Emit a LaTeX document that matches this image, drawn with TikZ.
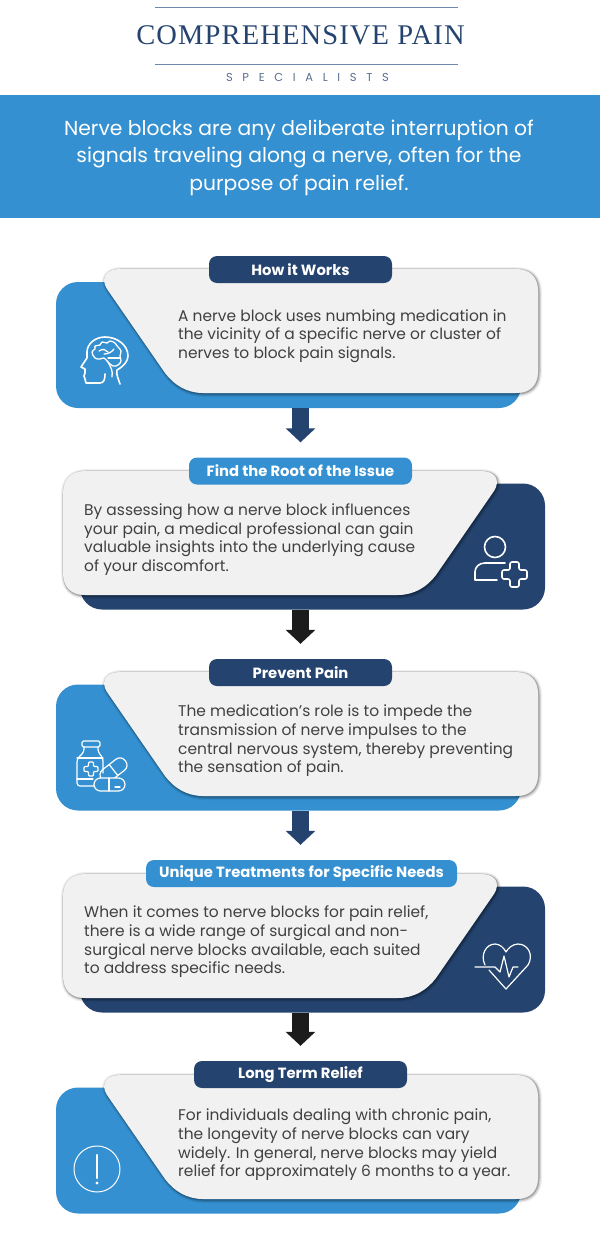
\documentclass[tikz,border=0pt]{standalone}
\usepackage{fontspec}
\setmainfont{Poppins}
\newfontfamily\logofont[LetterSpace=4]{Liberation Serif}
\newfontfamily\subfont[LetterSpace=84]{Poppins}
\usetikzlibrary{arrows.meta}
\definecolor{lightblue}{HTML}{3490D0}
\definecolor{navy}{HTML}{24436F}
\definecolor{cardgrey}{HTML}{F1F1F1}
\definecolor{textgrey}{HTML}{404040}
\definecolor{rulecolor}{HTML}{6F88B0}
\definecolor{arrowblack}{HTML}{1C1C1C}
\begin{document}
\begin{tikzpicture}[x=1pt,y=-1pt]
 % styles
  \tikzstyle{baselight}=[rectangle,fill=lightblue,rounded corners=22pt,minimum width=465pt,minimum height=126pt,inner sep=0pt]
  \tikzstyle{basedark}=[baselight,fill=navy]
  \tikzstyle{cardshape}=[fill=cardgrey,
    preaction={draw=black,opacity=.06,line width=6pt,transform canvas={shift={(1pt,-1pt)}}},
    preaction={draw=black,opacity=.12,line width=3.6pt,transform canvas={shift={(1pt,-1pt)}}},
    preaction={draw=black,opacity=.22,line width=1.6pt,transform canvas={shift={(.7pt,-.7pt)}}}]
  \tikzstyle{titlelight}=[rectangle,fill=lightblue,rounded corners=8pt,minimum height=27pt,inner sep=0pt,text=white,font=\fontsize{14.8}{16}\selectfont\bfseries]
  \tikzstyle{titledark}=[titlelight,fill=navy]
  \tikzstyle{cardtext}=[anchor=west,align=left,inner sep=0pt,text=textgrey,font=\fontsize{15.45}{18.7}\selectfont]
  \tikzstyle{linkblue}=[-{Triangle[length=14pt,width=29pt]},line width=17pt,navy,shorten >=15pt]
  \tikzstyle{linkblack}=[linkblue,arrowblack]
  \tikzstyle{pictline}=[draw=white,line width=1.6pt,line cap=round,line join=round]
  \useasboundingbox (0,0) rectangle (600,1258);
 % the logo
  \draw[rulecolor,line width=.8pt] (155,7)--(458,7);
  \draw[rulecolor,line width=.8pt] (155,64)--(458,64);
  \node[navy,font=\fontsize{28.5}{32}\selectfont\logofont] (logo) at (300.5,35) {COMPREHENSIVE PAIN};
  \node[rulecolor!80!black,font=\fontsize{11.5}{13}\selectfont\subfont] (sublogo) at (307.5,77) {SPECIALISTS};
 % the banner
  \fill[lightblue] (0,95) rectangle (600,218);
  \node[align=center,text=white,font=\fontsize{20.3}{27.4}\selectfont] (intro) at (299,157.5)
    {Nerve blocks are any deliberate interruption of\\signals traveling along a nerve, often for the\\purpose of pain relief.};
 % the bases
  \node[baselight] (base1) at (288.5,345) {};
  \node[basedark] (base2) at (312.5,546.5) {};
  \node[baselight] (base3) at (288.5,747.5) {};
  \node[basedark] (base4) at (312.5,949.5) {};
  \node[baselight] (base5) at (288.5,1150.5) {};
 % the cards
  \foreach \dy in {0,403,806}{
    \begin{scope}[shift={(0,\dy)}]
      \path[cardshape] (120,269)--(516,269) .. controls (530,269) and (538,277) .. (538,291)
        --(538,371) .. controls (538,385) and (530,393) .. (516,393)
        --(203,393) .. controls (187,393) and (174,385) .. (165,373)
        --(107,289) .. controls (100,278) and (106,269) .. (120,269)--cycle;
    \end{scope}}
  \foreach \dy in {202,605}{
    \begin{scope}[shift={(601,\dy)},xscale=-1]
      \path[cardshape] (120,269)--(516,269) .. controls (530,269) and (538,277) .. (538,291)
        --(538,371) .. controls (538,385) and (530,393) .. (516,393)
        --(203,393) .. controls (187,393) and (174,385) .. (165,373)
        --(107,289) .. controls (100,278) and (106,269) .. (120,269)--cycle;
    \end{scope}}
 % the titles
  \node[titledark,minimum width=183pt] (title1) at (300.5,269.5) {\raisebox{.8pt}{How it Works}};
  \node[titlelight,minimum width=223pt] (title2) at (300.5,471) {\raisebox{.8pt}{Find the Root of the Issue}};
  \node[titledark,minimum width=183pt] (title3) at (300.5,672.5) {\raisebox{.8pt}{Prevent Pain}};
  \node[titlelight,minimum width=311pt] (title4) at (301.5,873.5) {\raisebox{.8pt}{Unique Treatments for Specific Needs}};
  \node[titledark,minimum width=213pt] (title5) at (300.5,1074.5) {\raisebox{.8pt}{Long Term Relief}};
 % the texts
  \node[cardtext] (text1) at (178,336) {A nerve block uses numbing medication in\\the vicinity of a specific nerve or cluster of\\nerves to block pain signals.};
  \node[cardtext] (text2) at (84,539.5) {By assessing how a nerve block influences\\your pain, a medical professional can gain\\valuable insights into the underlying cause\\of your discomfort.};
  \node[cardtext] (text3) at (178,741) {The medication’s role is to impede the\\transmission of nerve impulses to the\\central nervous system, thereby preventing\\the sensation of pain.};
  \node[cardtext] (text4) at (84,942) {When it comes to nerve blocks for pain relief,\\there is a wide range of surgical and non-\\surgical nerve blocks available, each suited\\to address specific needs.};
  \node[cardtext] (text5) at (178,1145) {For individuals dealing with chronic pain,\\the longevity of nerve blocks can vary\\widely. In general, nerve blocks may yield\\relief for approximately 6 months to a year.};
 % the arrows
  \draw[linkblue] (title2.north |- base1.south)--(title2.north);
  \draw[linkblack] (title3.north |- base2.south)--(title3.north);
  \draw[linkblue] (title3.north |- base3.south)--(title4.north -| title3.north);
  \draw[linkblack] (title3.north |- base4.south)--(title5.north -| title3.north);
 % icon head
  \draw[pictline] (120,384) .. controls (118,378) and (116,374) .. (117,370)
    .. controls (124,366) and (128,361) .. (128,356) .. controls (128,345) and (117,337) .. (105,337)
    .. controls (95,337) and (87,344) .. (87,352)--(87,358)--(81,367)--(85,369)--(85,373)--(84,376)--(85,379)--(86,383)
    --(100,383) .. controls (104,383) and (105,379) .. (105,374);
  \draw[pictline,line width=1.3pt] plot[smooth cycle,tension=.7] coordinates {(92,352)(95,349)(95,346)(100,345)(102,342)(107,343)(110,341)(115,343)(118,347)(121,351)(120,356)(121,361)(118,365)(113,366)(108,362)(104,358)(100,359)(95,358)};
  \draw[pictline,line width=1.3pt] (99,351) .. controls (103,348) and (106,350) .. (108,352);
  \draw[pictline,line width=1.3pt] (104,354) .. controls (108,354) and (112,352) .. (114,349);
  \draw[pictline,line width=1.3pt] (108,358)--(120,358);
  \draw[pictline,line width=1.3pt] (108,362) .. controls (111,368) and (113,370) .. (112,377);
 % icon person
  \draw[pictline] (495,547) circle (10.5);
  \draw[pictline] (505,563)--(485,563) .. controls (479,563) and (475,567) .. (475,572)--(475,580)--(497,580);
  \draw[pictline,rounded corners=2pt] (510,562)--(519,562)--(519,570)--(527,570)--(527,579)--(519,579)--(519,587)--(510,587)--(510,579)--(502,579)--(502,570)--(510,570)--cycle;
 % icon bottle
  \draw[pictline,line width=1.2pt,rounded corners=1.5pt] (82,741) rectangle (100,747);
  \draw[pictline,line width=1.2pt,rounded corners=3pt] (84,747)--(84,752)--(77,759)--(77,786)--(96,786);
  \draw[pictline,line width=1.2pt,rounded corners=3pt] (98,747)--(98,752)--(103,758)--(103,773);
  \draw[pictline,line width=1.2pt] (77,758)--(103,758);
  \draw[pictline,line width=1.2pt] (77,779)--(93,779);
  \draw[pictline,line width=1.2pt,rounded corners=1pt] (88.5,762)--(93.5,762)--(93.5,766.5)--(98,766.5)--(98,771.5)--(93.5,771.5)--(93.5,776)--(88.5,776)--(88.5,771.5)--(84,771.5)--(84,766.5)--(88.5,766.5)--cycle;
  \begin{scope}[shift={(113.5,770)},rotate=38]
    \draw[pictline,line width=1.2pt,rounded corners=6.5pt] (-15,-7) rectangle (15,7);
    \draw[pictline,line width=1.2pt] (0,-7)--(0,7);
  \end{scope}
  \draw[pictline,line width=1.2pt,fill=lightblue,rounded corners=6.5pt] (94,778) rectangle (125,791);
  \draw[pictline,line width=1.2pt] (109,778)--(109,791);
  \draw[pictline,line width=1.2pt] (115,787)--(120,787);
 % icon heart
  \draw[pictline,line width=1.2pt] (485,965) .. controls (480,955) and (486,944) .. (495,944)
    .. controls (500,944) and (504,948) .. (506,952) .. controls (508,948) and (513,944) .. (518,944)
    .. controls (528,944) and (534,955) .. (528,965)--(506,989)--(489,970);
  \draw[pictline,line width=1.2pt] (475,967)--(495,967)--(500,972)--(504,956)--(509,977)--(513,967)--(518,967);
 % icon warning
  \draw[pictline,line width=1pt] (97,1169) circle (23);
  \draw[pictline,line width=2.4pt] (97,1155)--(97,1178);
  \fill[white] (97,1183) circle (1.6);
\end{tikzpicture}
\end{document}
